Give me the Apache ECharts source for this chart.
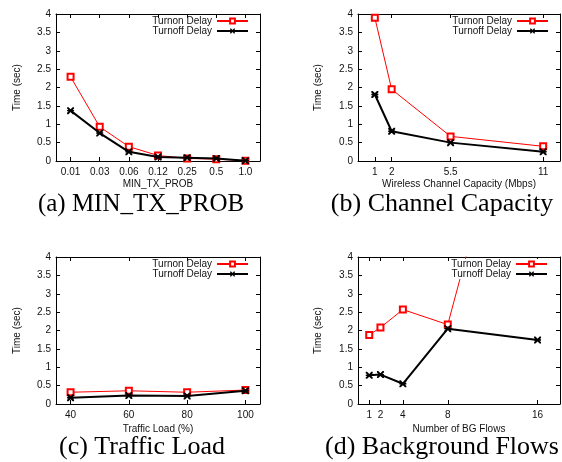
<!DOCTYPE html>
<html>
<head>
<meta charset="utf-8">
<script src="https://cdn.jsdelivr.net/npm/echarts@6/dist/echarts.min.js"></script>
<style>
  html, body { margin: 0; padding: 0; background: #fff; }
  #chart { width: 562px; height: 462px; }
</style>
</head>
<body>
<div id="chart"></div>
<script>
// (a) MIN_TX_PROB
const aProb = ['0.01', '0.03', '0.06', '0.12', '0.25', '0.5', '1.0'];
const aTurnon = [2.29, 0.93, 0.39, 0.15, 0.07, 0.05, 0.01];
const aTurnoff = [1.37, 0.76, 0.25, 0.11, 0.09, 0.07, 0.01];

// (b) channel capacity
const bCapacity = [1, 2, 5.5, 11];
const bTurnon = [3.90, 1.95, 0.67, 0.40];
const bTurnoff = [1.81, 0.81, 0.50, 0.25];

// (c) traffic load
const cLoad = [40, 60, 80, 100];
const cTurnon = [0.32, 0.36, 0.32, 0.38];
const cTurnoff = [0.17, 0.23, 0.22, 0.36];

// (d) background flows
const dFlows = [1, 2, 4, 8, 16];
const dTurnon = [1.88, 2.08, 2.57, 2.16, 11.3];
const dTurnoff = [0.78, 0.80, 0.55, 2.05, 1.74];

const seriesNames = ['Turnon Delay', 'Turnoff Delay'];

const chart = echarts.init(document.getElementById('chart'));

const FONT = "'Liberation Sans', Arial, sans-serif";
const SERIF = "'Liberation Serif', 'Times New Roman', serif";
const starPath = 'path://M0,0L2,0L5,3L8,0L10,0L10,2L7,5L10,8L10,10L8,10L5,7L2,10L0,10L0,8L3,5L0,2ZM0,4L10,4L10,6L0,6Z';

const grids = [
  { left: 56, top: 14, width: 204, height: 147 },
  { left: 358, top: 14, width: 202, height: 147 },
  { left: 56, top: 257, width: 204, height: 147 },
  { left: 358, top: 257, width: 202, height: 147 }
];

const tick = { show: true, inside: true, length: 4, lineStyle: { color: '#000', width: 1 } };
const line = { show: true, onZero: false, lineStyle: { color: '#000', width: 1 } };
const label = { color: '#111', fontSize: 10, fontFamily: FONT };

function xAxes(gi, cfg, name, gap) {
  const bottom = Object.assign({
    gridIndex: gi, position: 'bottom',
    name: name, nameLocation: 'middle', nameGap: gap,
    nameTextStyle: { color: '#111', fontSize: 10, fontFamily: FONT },
    axisLine: line, axisTick: Object.assign({}, tick, cfg.tickExtra),
    axisLabel: Object.assign({ margin: 6 }, label, cfg.labelExtra),
    splitLine: { show: false }
  }, cfg.base);
  const top = Object.assign({
    gridIndex: gi, position: 'top',
    axisLine: line, axisTick: Object.assign({}, tick, cfg.tickExtra),
    axisLabel: { show: false }, splitLine: { show: false }
  }, cfg.base);
  return [bottom, top];
}

function yAxes(gi, gap) {
  const base = { type: 'value', gridIndex: gi, min: 0, max: 4, interval: 0.5 };
  return [
    Object.assign({
      position: 'left', name: 'Time (sec)', nameLocation: 'middle', nameGap: gap,
      nameTextStyle: { color: '#111', fontSize: 10, fontFamily: FONT },
      axisLine: line, axisTick: tick, axisLabel: Object.assign({ margin: 5 }, label),
      splitLine: { show: false }
    }, base),
    Object.assign({
      position: 'right', axisLine: line, axisTick: tick,
      axisLabel: { show: false }, splitLine: { show: false }
    }, base)
  ];
}

const catCfg = {
  base: { type: 'category', data: aProb, boundaryGap: true },
  tickExtra: { alignWithLabel: true, interval: 0 },
  labelExtra: { interval: 0 }
};
function valCfg(min, max, ticks) {
  return {
    base: { type: 'value', min: min, max: max },
    tickExtra: { customValues: ticks },
    labelExtra: { customValues: ticks }
  };
}

const xAxis = [].concat(
  xAxes(0, catCfg, 'MIN_TX_PROB', 18),
  xAxes(1, valCfg(0, 12, bCapacity), 'Wireless Channel Capacity (Mbps)', 18),
  xAxes(2, valCfg(35, 105, cLoad), 'Traffic Load (%)', 20),
  xAxes(3, valCfg(0, 18, dFlows), 'Number of BG Flows', 20)
);
const yAxis = [].concat(yAxes(0, 34), yAxes(1, 35), yAxes(2, 34), yAxes(3, 35));

function pairs(xs, ys) {
  return xs.map((x, i) => [x, ys[i]]);
}

function mkSeries(gi, onData, offData) {
  return [
    {
      name: seriesNames[0], type: 'line', xAxisIndex: gi * 2, yAxisIndex: gi * 2,
      data: onData, symbol: 'emptyRect', symbolSize: 6, clip: true,
      lineStyle: { color: '#ff0000', width: 1 },
      itemStyle: { color: '#ff0000', borderColor: '#ff0000', borderWidth: 1 },
      z: 3, animation: false
    },
    {
      name: seriesNames[1], type: 'line', xAxisIndex: gi * 2, yAxisIndex: gi * 2,
      data: offData, symbol: starPath, symbolSize: 7, clip: true,
      lineStyle: { color: '#000', width: 2 },
      itemStyle: { color: '#000' },
      z: 4, animation: false
    }
  ];
}

function mkLegend(right, top, opaque) {
  return {
    data: seriesNames, orient: 'vertical', align: 'right',
    right: right, top: top, itemWidth: 31, itemHeight: 6, itemGap: 0,
    padding: opaque ? [0, 1, 0, 1] : 0,
    backgroundColor: opaque ? '#fff' : 'transparent',
    selectedMode: false,
    textStyle: { color: '#111', fontSize: 10, fontFamily: FONT, lineHeight: 10 }
  };
}

const captions = [
  ['(a) MIN_TX_PROB', 141, 204, 25],
  ['(b) Channel Capacity', 442, 204, 26],
  ['(c) Traffic Load', 142, 447, 26],
  ['(d) Background Flows', 442, 447, 26]
];

chart.setOption({
  backgroundColor: '#fff',
  animation: false,
  grid: grids,
  xAxis: xAxis,
  yAxis: yAxis,
  legend: [
    mkLegend(313, 16, false),
    mkLegend(13, 16, false),
    mkLegend(313, 259, false),
    mkLegend(13, 259, true)
  ],
  series: series(),
  graphic: captions.map(c => ({
    type: 'text', x: c[1], y: c[2],
    style: {
      text: c[0], fill: '#000', font: c[3] + 'px ' + SERIF,
      textAlign: 'center', textVerticalAlign: 'middle'
    }
  }))
});

function series() {
  return [].concat(
    mkSeries(0, aTurnon, aTurnoff),
    mkSeries(1, pairs(bCapacity, bTurnon), pairs(bCapacity, bTurnoff)),
    mkSeries(2, pairs(cLoad, cTurnon), pairs(cLoad, cTurnoff)),
    mkSeries(3, pairs(dFlows, dTurnon), pairs(dFlows, dTurnoff))
  );
}
</script>
</body>
</html>
